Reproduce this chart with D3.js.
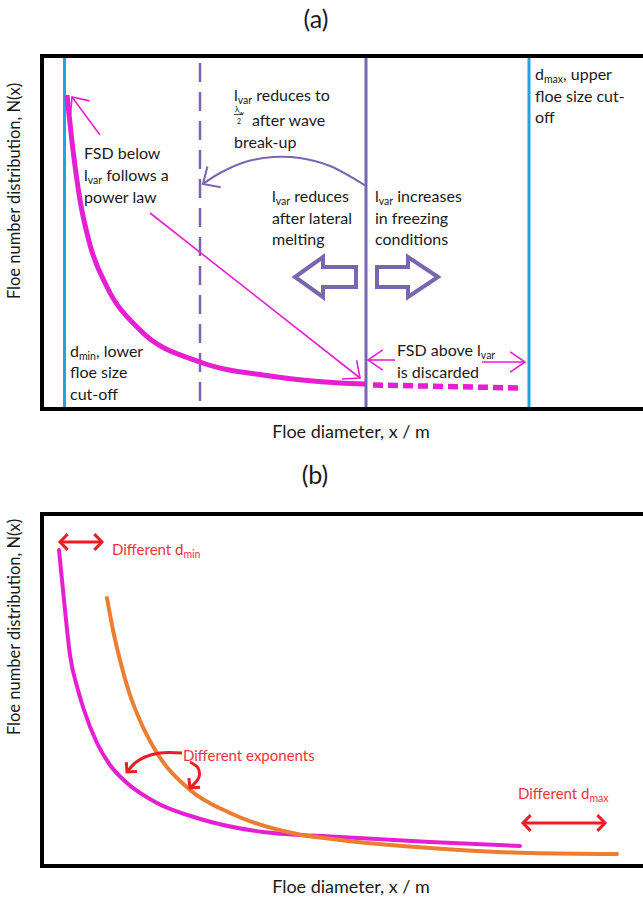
<!DOCTYPE html>
<html>
<head>
<meta charset="utf-8">
<script src="https://cdn.jsdelivr.net/npm/d3@7"></script>
<style>
  body{margin:0;background:#fff}
  svg{display:block}
  text{font-family:Lato,"Open Sans",sans-serif}
</style>
</head>
<body>
<svg id="chart" width="643" height="901"></svg>
<script>
// schematic units: x = floe diameter (arbitrary), y = N(x) (arbitrary)
// panel (a)
var diamA = [25, 31, 38, 48, 65, 98, 158, 228, 298, 324]
var fsdA = [314, 259, 209, 164, 122, 79, 47, 33, 26, 25]
var diamDiscard = [331, 478]
var fsdDiscard = [24, 21]
var dMinA = 22.5, lVar = 324, lVarWave = 158, dMaxA = 487

// panel (b)
var diamB1 = [17, 22, 28, 36, 42, 55, 68, 85, 115, 155, 221, 298, 388, 478]
var fsdB1 = [316, 266, 211, 176, 156, 123, 101, 83, 63, 48, 34, 29, 24, 20]
var diamB2 = [65, 71, 78, 87, 100, 115, 148, 188, 255, 298, 388, 488, 575]
var fsdB2 = [268, 236, 206, 174, 141, 113, 76, 53, 32, 26, 18, 13, 12]

var purple = '#7966b0', cyan = '#1ea4e6', pink = '#e61fd3', orange = '#ed7d31', red = '#ee1c24'
var ink = '#1a1a1a', redText = '#f0333d'

var svg = d3.select('#chart')
var xA = d3.scaleLinear().domain([0, 600]).range([42, 642])
var yA = d3.scaleLinear().domain([0, 353]).range([409, 56])
var xB = xA.copy()
var yB = d3.scaleLinear().domain([0, 352]).range([866, 514])

function label(g, x, y, parts, size, color){
  var t = g.append('text').attr('x', x).attr('y', y)
      .attr('font-size', size || 16).attr('fill', color || ink)
  var shifted = false
  parts.forEach(function(p){
    if (typeof p == 'string'){
      t.append('tspan').attr('dy', shifted ? -3 : 0).text(p)
      shifted = false
    } else {
      t.append('tspan').attr('font-size', p.size || 10.5).attr('dy', 3).text(p.sub)
      shifted = true
    }
  })
  return t
}

// arrowhead with two open arms, tip at p1, coming from p0
function arrowhead(g, p0, p1, len, half, color, w){
  var a = Math.atan2(p0[1] - p1[1], p0[0] - p1[0])
  var arms = [a - half, a + half].map(function(b){
    return [p1[0] + len * Math.cos(b), p1[1] + len * Math.sin(b)]
  })
  g.append('path')
    .attr('d', 'M' + arms[0] + 'L' + p1 + 'L' + arms[1])
    .attr('fill', 'none').attr('stroke', color).attr('stroke-width', w)
    .attr('stroke-linejoin', 'miter')
}

function arrow(g, pts, color, w, len, half, curved, both){
  var line = d3.line().curve(curved ? d3.curveCatmullRom : d3.curveLinear)
  g.append('path').attr('d', line(pts)).attr('fill', 'none')
    .attr('stroke', color).attr('stroke-width', w)
  var n = pts.length
  arrowhead(g, pts[n - 2], pts[n - 1], len, half, color, w)
  if (both) arrowhead(g, pts[1], pts[0], len, half, color, w)
}

var A = function(x, y){ return [xA(x), yA(y)] }
var B = function(x, y){ return [xB(x), yB(y)] }

// ---------- panel (a) ----------
var ga = svg.append('g')
svg.append('text').attr('x', 316).attr('y', 28).attr('text-anchor', 'middle')
  .attr('font-size', 25).attr('fill', ink).text('(a)')

ga.selectAll('line.v')
  .data([{x: dMinA, c: cyan, w: 3}, {x: dMaxA, c: cyan, w: 3}, {x: lVar, c: purple, w: 3}])
  .enter().append('line')
  .attr('x1', function(d){ return xA(d.x) }).attr('x2', function(d){ return xA(d.x) })
  .attr('y1', yA(353)).attr('y2', yA(0))
  .attr('stroke', function(d){ return d.c }).attr('stroke-width', function(d){ return d.w })

ga.append('line')
  .attr('x1', xA(lVarWave)).attr('x2', xA(lVarWave))
  .attr('y1', yA(346)).attr('y2', yA(4))
  .attr('stroke', purple).attr('stroke-width', 2.5).attr('stroke-dasharray', '19,10')

var lineA = d3.line().x(function(d){ return xA(d[0]) }).y(function(d){ return yA(d[1]) })
  .curve(d3.curveMonotoneX)
ga.append('path').attr('d', lineA(d3.zip(diamA, fsdA)))
  .attr('fill', 'none').attr('stroke', pink).attr('stroke-width', 5)
ga.append('path').attr('d', lineA(d3.zip(diamDiscard, fsdDiscard)))
  .attr('fill', 'none').attr('stroke', pink).attr('stroke-width', 5.5)
  .attr('stroke-dasharray', '10,5')

// pink pointer arrows
arrow(ga, [A(58, 274), A(30, 312)], pink, 1.6, 18, 0.72)
arrow(ga, [A(108, 196), A(318, 31)], pink, 1.6, 18, 0.72)
arrow(ga, [A(353, 49), A(326, 49)], pink, 1.6, 18, 0.6)
arrow(ga, [A(440, 47), A(483, 47)], pink, 1.6, 18, 0.6)

// curved purple arrow (wave break-up)
arrow(ga, [A(324, 223), A(288, 243), A(258, 251), A(231, 252), A(203, 247), A(178, 236), A(161, 225)],
  purple, 2, 18, 0.75, true)

// hollow block arrows
var block = d3.line()
ga.append('path').attr('d', block([A(253, 132), A(281, 152), A(281, 142), A(314, 142), A(314, 122), A(281, 122), A(281, 112)]) + 'Z')
  .attr('fill', '#fff').attr('stroke', purple).attr('stroke-width', 4)
ga.append('path').attr('d', block([A(396, 132), A(366, 152), A(366, 142), A(335, 142), A(335, 122), A(366, 122), A(366, 112)]) + 'Z')
  .attr('fill', '#fff').attr('stroke', purple).attr('stroke-width', 4)

// annotations
var p
p = A(42, 250); label(ga, p[0], p[1], ['FSD below'])
p = A(42, 228); label(ga, p[0], p[1], ['l', {sub: 'var'}, ' follows a'])
p = A(42, 206); label(ga, p[0], p[1], ['power law'])

p = A(192, 308); label(ga, p[0], p[1], ['l', {sub: 'var'}, ' reduces to'])
p = A(193, 297); label(ga, p[0], p[1], ['λ', {sub: 'w', size: 6}], 8)
ga.append('line').attr('x1', xA(192)).attr('x2', xA(201)).attr('y1', yA(294.5)).attr('y2', yA(294.5))
  .attr('stroke', ink).attr('stroke-width', 0.8)
p = A(195, 285); label(ga, p[0], p[1], ['2'], 7)
p = A(210, 283); label(ga, p[0], p[1], ['after wave'])
p = A(192, 261); label(ga, p[0], p[1], ['break-up'])

p = A(230, 207); label(ga, p[0], p[1], ['l', {sub: 'var'}, ' reduces'])
p = A(230, 185); label(ga, p[0], p[1], ['after lateral'])
p = A(230, 164); label(ga, p[0], p[1], ['melting'])

p = A(333, 207); label(ga, p[0], p[1], ['l', {sub: 'var'}, ' increases'])
p = A(333, 185); label(ga, p[0], p[1], ['in freezing'])
p = A(333, 164); label(ga, p[0], p[1], ['conditions'])

p = A(493, 329); label(ga, p[0], p[1], ['d', {sub: 'max'}, ', upper'])
p = A(493, 307); label(ga, p[0], p[1], ['floe size cut-'])
p = A(493, 286); label(ga, p[0], p[1], ['off'])

p = A(28, 52); label(ga, p[0], p[1], ['d', {sub: 'min'}, ', lower'])
p = A(28, 31); label(ga, p[0], p[1], ['floe size'])
p = A(28, 9); label(ga, p[0], p[1], ['cut-off'])

p = A(355, 53); label(ga, p[0], p[1], ['FSD above l', {sub: 'var'}])
p = A(355, 31); label(ga, p[0], p[1], ['is discarded'])

ga.append('rect').attr('x', 42).attr('y', yA(353)).attr('width', 620).attr('height', yA(0) - yA(353))
  .attr('fill', 'none').attr('stroke', '#000').attr('stroke-width', 4)

label(svg, 351, 438, ['Floe diameter, x / m'], 18).attr('text-anchor', 'middle')
svg.append('text').attr('transform', 'translate(20,191) rotate(-90)').attr('text-anchor', 'middle')
  .attr('font-size', 16.5).attr('fill', ink).text('Floe number distribution, N(x)')

// ---------- panel (b) ----------
var gb = svg.append('g')
svg.append('text').attr('x', 315).attr('y', 484).attr('text-anchor', 'middle')
  .attr('font-size', 25).attr('fill', ink).text('(b)')

var lineB = d3.line().x(function(d){ return xB(d[0]) }).y(function(d){ return yB(d[1]) })
  .curve(d3.curveMonotoneX)
gb.selectAll('path.fsd')
  .data([{x: diamB1, y: fsdB1, c: pink}, {x: diamB2, y: fsdB2, c: orange}])
  .enter().append('path').attr('class', 'fsd')
  .attr('d', function(d){ return lineB(d3.zip(d.x, d.y)) })
  .attr('fill', 'none').attr('stroke', function(d){ return d.c })
  .attr('stroke-width', 4).attr('stroke-linecap', 'round')

arrow(gb, [B(18, 324), B(60, 324)], red, 3, 11, 0.8, false, true)
arrow(gb, [B(481, 43), B(563, 43)], red, 3, 11, 0.8, false, true)
arrow(gb, [B(140, 113), B(118, 113), B(103, 109), B(93, 103), B(85, 94)], red, 3, 10, 0.8, true)
arrow(gb, [B(148, 104), B(156, 98), B(157, 89), B(148, 78)], red, 3, 10, 0.8, true)

p = B(70, 311); label(gb, p[0], p[1], ['Different d', {sub: 'min', size: 10.5}], 15, redText)
p = B(141, 105); label(gb, p[0], p[1], ['Different exponents'], 15, redText)
p = B(476, 67); label(gb, p[0], p[1], ['Different d', {sub: 'max', size: 10.5}], 15, redText)

gb.append('rect').attr('x', 42).attr('y', yB(352)).attr('width', 620).attr('height', yB(0) - yB(352))
  .attr('fill', 'none').attr('stroke', '#000').attr('stroke-width', 4)

label(svg, 351, 893, ['Floe diameter, x / m'], 18).attr('text-anchor', 'middle')
svg.append('text').attr('transform', 'translate(20,627) rotate(-90)').attr('text-anchor', 'middle')
  .attr('font-size', 16.5).attr('fill', ink).text('Floe number distribution, N(x)')
</script>
</body>
</html>
